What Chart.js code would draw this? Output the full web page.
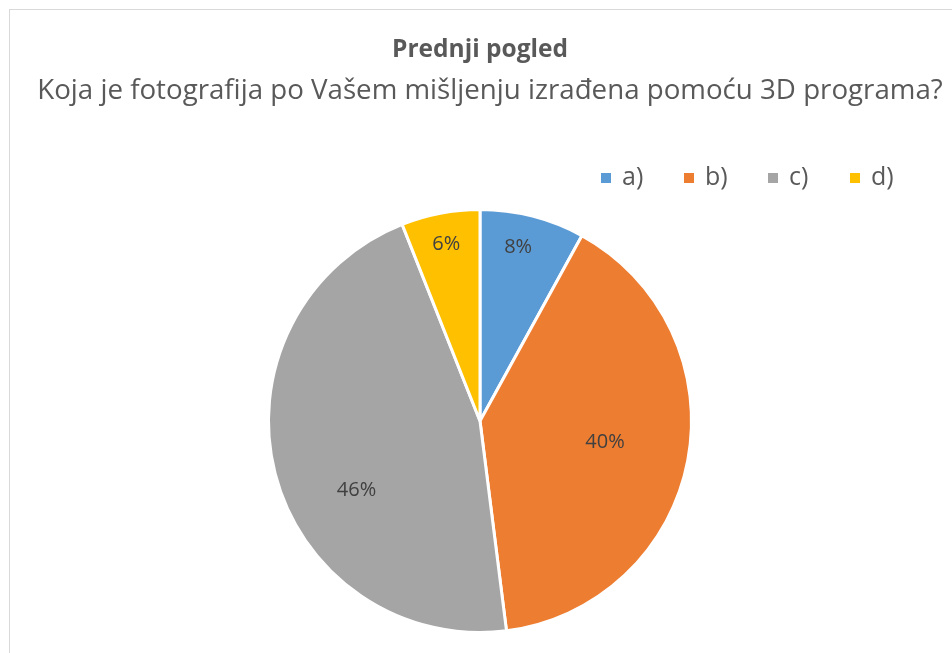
<!DOCTYPE html>
<html>
<head>
<meta charset="utf-8">
<script src="https://cdn.jsdelivr.net/npm/chart.js@4.4.1/dist/chart.umd.min.js"></script>
<style>
  html, body { margin:0; padding:0; background:#fff; overflow:hidden; }
  #wrap { position:relative; width:952px; height:653px; }
  #frame { position:absolute; left:9px; top:9px; width:2000px; height:2000px; border:1px solid #d9d9d9; box-sizing:border-box; }
  canvas { position:absolute; left:0; top:0; }
</style>
</head>
<body>
<div id="wrap">
  <div id="frame"></div>
  <canvas id="c" width="952" height="653"></canvas>
</div>
<script>
const titleText = 'Prednji pogled';
const subtitleText = 'Koja je fotografija po Vašem mišljenju izrađena pomoću 3D programa?';
const categories = ['a)', 'b)', 'c)', 'd)'];
const percentages = [8, 40, 46, 6];
const sliceColors = ['#5B9BD5', '#ED7D31', '#A5A5A5', '#FFC000'];

const FONT = '"Open Sans", "Noto Sans", sans-serif';
// best-fit label placement (radius fraction, angle shift in degrees)
const labelRadiusFactor = [0.84, 0.6, 0.67, 0.85];
const labelAngleShift = [-2, -1, -15, 0];

const decorPlugin = {
  id: 'decor',
  afterDraw(chart) {
    const ctx = chart.ctx;
    ctx.save();
    ctx.fillStyle = '#595959';
    ctx.textAlign = 'center';
    ctx.textBaseline = 'alphabetic';
    ctx.font = 'bold 24.5px ' + FONT;
    ctx.fillText(titleText, 480, 57);
    ctx.font = '27.7px ' + FONT;
    ctx.fillText(subtitleText, 490, 99);

    // legend
    ctx.font = '25px ' + FONT;
    ctx.textAlign = 'left';
    ctx.textBaseline = 'middle';
    const startX = [601, 684, 768, 850];
    categories.forEach((c, i) => {
      ctx.fillStyle = sliceColors[i];
      ctx.fillRect(startX[i], 173, 10, 10);
      ctx.fillStyle = '#595959';
      ctx.fillText(c, startX[i] + 21, 178);
    });

    // data labels
    const meta = chart.getDatasetMeta(0);
    ctx.font = '20px ' + FONT;
    ctx.fillStyle = '#404040';
    ctx.textAlign = 'center';
    ctx.textBaseline = 'middle';
    meta.data.forEach((arc, i) => {
      const p = arc.getProps(['x','y','startAngle','endAngle','outerRadius'], true);
      const mid = (p.startAngle + p.endAngle) / 2 + labelAngleShift[i] * Math.PI / 180;
      const r = p.outerRadius * labelRadiusFactor[i];
      ctx.fillText(percentages[i] + '%', p.x + Math.cos(mid) * r, p.y + Math.sin(mid) * r);
    });
    ctx.restore();
  }
};

new Chart(document.getElementById('c'), {
  type: 'pie',
  data: {
    labels: categories,
    datasets: [{
      data: percentages,
      backgroundColor: sliceColors,
      borderColor: '#ffffff',
      borderWidth: 3
    }]
  },
  options: {
    responsive: false,
    animation: false,
    layout: { padding: { top: 208, bottom: 19, left: 8, right: 0 } },
    plugins: {
      legend: { display: false },
      title: { display: false },
      tooltip: { enabled: false }
    }
  },
  plugins: [decorPlugin]
});
</script>
</body>
</html>
